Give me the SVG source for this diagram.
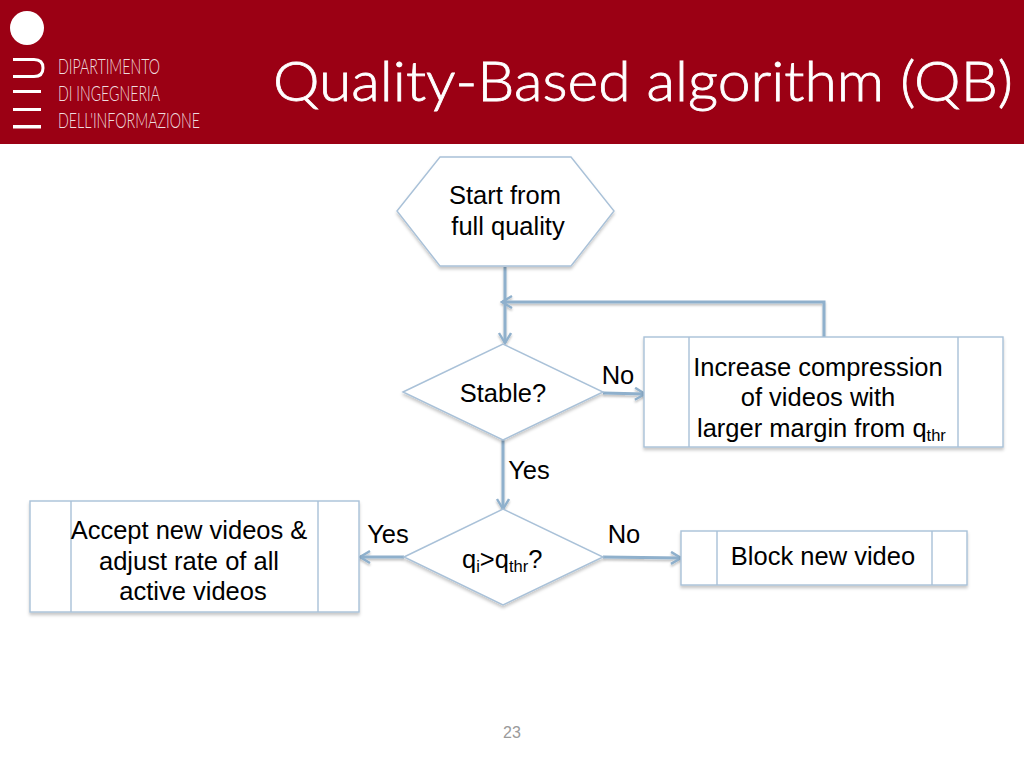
<svg xmlns="http://www.w3.org/2000/svg" width="1024" height="768" viewBox="0 0 1024 768">
<defs>
<filter id="sh" x="-5%" y="-10%" width="110%" height="125%"><feDropShadow dx="0" dy="2.500" stdDeviation="1.500" flood-color="#000" flood-opacity="0.22"/></filter>
<filter id="shc" filterUnits="userSpaceOnUse" x="300" y="250" width="600" height="400"><feDropShadow dx="0" dy="2" stdDeviation="1.200" flood-color="#000" flood-opacity="0.25"/></filter>
<marker id="arr" markerUnits="userSpaceOnUse" markerWidth="14" markerHeight="16" refX="12" refY="7" orient="auto"><path d="M2 1 L12 7 L2 13" fill="none" stroke="#8fb0cc" stroke-width="2.400"/></marker>
</defs>
<style>
text{font-family:"Liberation Sans",Arial,sans-serif;fill:#000;font-size:25.500px}
.m{text-anchor:middle}
.n{fill:#fff;stroke:#a9c1d8;stroke-width:1.400;filter:url(#sh)}
.d{stroke:#a9c1d8;stroke-width:1.400;fill:none}
.c{fill:none;stroke:#8fb0cc;stroke-width:3}
.l{font-family:Lato,sans-serif;font-weight:300;font-size:22px;fill:#eedcdf}
.s{font-size:16.500px}
</style>
<rect id="header" x="0" y="0" width="1024" height="144" fill="#9b0014"/>
<g id="logo">
<circle cx="27" cy="28" r="17" fill="#fff"/>
<path d="M13 59.500 H34 Q43 59.500 43 68 Q43 76.500 34 76.500 H13" fill="none" stroke="#fff" stroke-width="3"/>
<rect x="13" y="90" width="28" height="3" fill="#fff"/>
<rect x="13" y="108" width="28" height="3" fill="#fff"/>
<rect x="13" y="125" width="28" height="3.500" fill="#fff"/>
<text class="l" x="58" y="74" textLength="102" lengthAdjust="spacingAndGlyphs">DIPARTIMENTO</text>
<text class="l" x="58" y="101" textLength="102" lengthAdjust="spacingAndGlyphs">DI INGEGNERIA</text>
<text class="l" x="58" y="128" textLength="142" lengthAdjust="spacingAndGlyphs">DELL'INFORMAZIONE</text>
</g>
<text id="title" x="273" y="101" textLength="740" lengthAdjust="spacingAndGlyphs" style="font-family:Lato,sans-serif;font-weight:300;font-size:56px;fill:#fff;stroke:#fff;stroke-width:0.800">Quality-Based algorithm (QB)</text>
<g id="connectors" filter="url(#shc)">
<path class="c" d="M505 267 V343" marker-end="url(#arr)"/>
<path class="c" d="M824 337 V302 H502" marker-end="url(#arr)"/>
<path class="c" d="M603 393 L645 394" marker-end="url(#arr)"/>
<path class="c" d="M503 440 V509" marker-end="url(#arr)"/>
<path class="c" d="M404 557 H360" marker-end="url(#arr)"/>
<path class="c" d="M603 557 L681 558" marker-end="url(#arr)"/>
</g>
<g id="start">
<polygon class="n" points="397,211 440,157 571,157 614,211 571,266 440,266"/>
<text class="m" x="505" y="204">Start from</text>
<text class="m" x="508" y="235">full quality</text>
</g>
<g id="stable">
<polygon class="n" points="403,392 503,344 603,392 503,440"/>
<text class="m" x="503" y="402">Stable?</text>
</g>
<g id="increase">
<rect class="n" x="644" y="337" width="359" height="110"/>
<path class="d" d="M689 337 V447 M958 337 V447"/>
<text class="m" x="818" y="376">Increase compression</text>
<text class="m" x="818" y="406">of videos with</text>
<text x="697" y="437">larger margin from q<tspan class="s" dy="4">thr</tspan></text>
</g>
<g id="quality">
<polygon class="n" points="404,557 503,509 603,557 503,605"/>
<text x="462" y="568">q<tspan class="s" dy="4">i</tspan><tspan dy="-4">&gt;q</tspan><tspan class="s" dy="4">thr</tspan><tspan dy="-4">?</tspan></text>
</g>
<g id="accept">
<rect class="n" x="30" y="501" width="329" height="111"/>
<path class="d" d="M71 501 V612 M318 501 V612"/>
<text class="m" x="189" y="539">Accept new videos &amp;</text>
<text class="m" x="189" y="570">adjust rate of all</text>
<text class="m" x="193" y="600">active videos</text>
</g>
<g id="block">
<rect class="n" x="681" y="531" width="286" height="54"/>
<path class="d" d="M717 531 V585 M932 531 V585"/>
<text class="m" x="823" y="565">Block new video</text>
</g>
<g id="labels">
<text class="m" x="618" y="384">No</text>
<text class="m" x="529" y="479">Yes</text>
<text class="m" x="388" y="543">Yes</text>
<text class="m" x="624" y="543">No</text>
</g>
<text id="page" class="m" x="512" y="738" style="font-size:16px;fill:#9a9a9a">23</text>
</svg>
